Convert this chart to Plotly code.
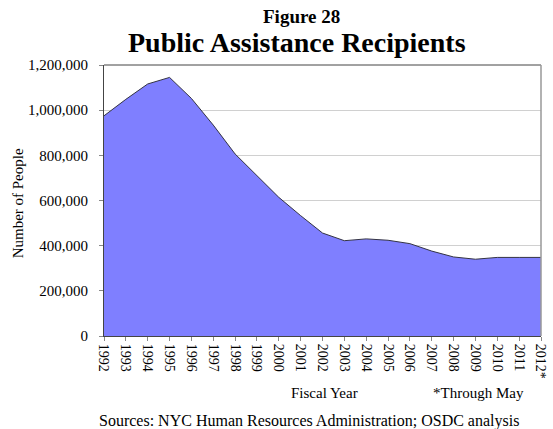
import plotly.graph_objects as go

years = ["1992", "1993", "1994", "1995", "1996", "1997", "1998", "1999", "2000", "2001",
         "2002", "2003", "2004", "2005", "2006", "2007", "2008", "2009", "2010", "2011", "2012*"]
recipients = [975000, 1048000, 1116000, 1145000, 1052000, 934000, 806000, 708000, 614000, 533000,
              456000, 422000, 430000, 424000, 409000, 376000, 350000, 340000, 348000, 348000, 348000]
y_ticks = [0, 200000, 400000, 600000, 800000, 1000000, 1200000]

FONT = "Liberation Serif, Times New Roman, serif"

fig = go.Figure()
fig.add_trace(go.Scatter(
    x=list(range(len(years))), y=recipients, mode="lines", fill="tozeroy",
    fillcolor="#7F7FFF", line=dict(color="#333344", width=1), hoverinfo="skip"))

fig.update_layout(
    width=553, height=429,
    margin=dict(l=104, r=5, t=65, b=93),
    paper_bgcolor="white", plot_bgcolor="white",
    showlegend=False,
    font=dict(family=FONT, size=15, color="black"),
    xaxis=dict(
        tickmode="array", tickvals=list(range(len(years))), ticktext=years,
        tickangle=90, range=[0, len(years) - 1], showgrid=False,
        ticks="outside", ticklen=4, tickcolor="#888888",
        showline=True, linecolor="#444444", linewidth=1, mirror=False,
        tickfont=dict(family=FONT, size=14), zeroline=False,
        ticklabeloverflow="allow"),
    yaxis=dict(
        tickmode="array", tickvals=y_ticks,
        ticktext=[f"{v:,}" for v in y_ticks],
        range=[0, 1200000], showgrid=True, gridcolor="#d0d0d0", gridwidth=1,
        ticks="outside", ticklen=4, tickcolor="#888888", ticklabelstandoff=8,
        showline=True, linecolor="#444444", linewidth=1,
        tickfont=dict(family=FONT, size=15), zeroline=False),
)

# top and right border
fig.add_shape(type="line", xref="paper", yref="paper", x0=0, x1=1, y0=1, y1=1,
              line=dict(color="#444444", width=1))
fig.add_shape(type="line", xref="paper", yref="paper", x0=1, x1=1, y0=0, y1=1,
              line=dict(color="#999999", width=1.5))

fig.add_annotation(text="<b>Figure 28</b>", xref="paper", yref="paper",
                   x=(305 - 104) / 444, y=1 + (65 - 17) / 271, showarrow=False,
                   font=dict(family=FONT, size=19), xanchor="center", yanchor="middle")
fig.add_annotation(text="<b>Public Assistance Recipients</b>", xref="paper", yref="paper",
                   x=(300 - 104) / 444, y=1 + (65 - 42) / 271, showarrow=False,
                   font=dict(family=FONT, size=28), xanchor="center", yanchor="middle")
fig.add_annotation(text="Number of People", xref="paper", yref="paper",
                   x=(17 - 104) / 444, y=(336 - 203) / 271, showarrow=False, textangle=-90,
                   font=dict(family=FONT, size=15), xanchor="center", yanchor="middle")
fig.add_annotation(text="Fiscal Year", xref="paper", yref="paper",
                   x=(328 - 104) / 444, y=-(393 - 336) / 271, showarrow=False,
                   font=dict(family=FONT, size=15), xanchor="center", yanchor="middle")
fig.add_annotation(text="*Through May", xref="paper", yref="paper",
                   x=(485 - 104) / 444, y=-(393 - 336) / 271, showarrow=False,
                   font=dict(family=FONT, size=15), xanchor="center", yanchor="middle")
fig.add_annotation(text="Sources: NYC Human Resources Administration; OSDC analysis", xref="paper", yref="paper",
                   x=(312 - 104) / 444, y=-(421 - 336) / 271, showarrow=False,
                   font=dict(family=FONT, size=16), xanchor="center", yanchor="middle")

fig.write_html("out.html", config={"displayModeBar": False},
               post_script="document.body.style.margin='0';")
